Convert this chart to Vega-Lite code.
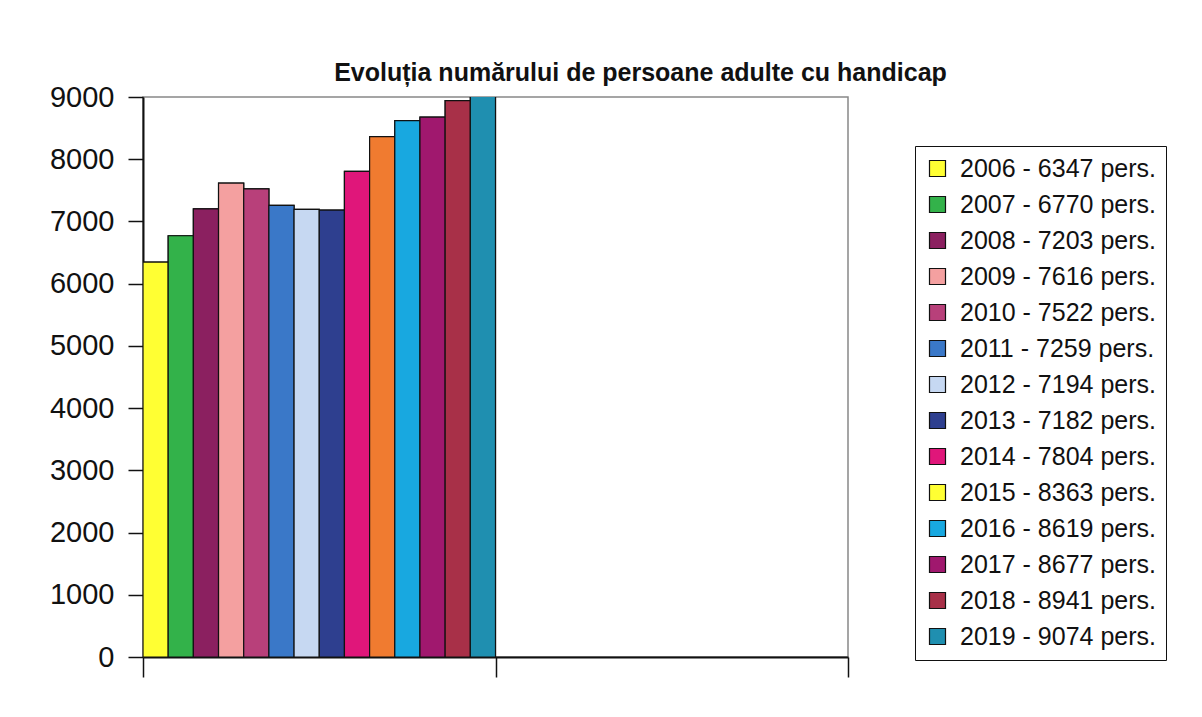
{
  "$schema": "https://vega.github.io/schema/vega-lite/v6.json",
  "autosize": {"type": "none"},
  "padding": {"left": 143, "top": 97, "right": 354, "bottom": 60},
  "width": 705,
  "height": 560,
  "background": "white",
  "title": {
    "text": "Evoluția numărului de persoane adulte cu handicap",
    "font": "Liberation Sans",
    "fontSize": 25,
    "fontWeight": "bold",
    "color": "#111",
    "anchor": "middle",
    "dx": 145,
    "dy": 12,
    "offset": 9
  },
  "data": {
    "values": [
      {"group": "A", "year": "2006", "value": 6347, "label": "2006 - 6347 pers."},
      {"group": "A", "year": "2007", "value": 6770, "label": "2007 - 6770 pers."},
      {"group": "A", "year": "2008", "value": 7203, "label": "2008 - 7203 pers."},
      {"group": "A", "year": "2009", "value": 7616, "label": "2009 - 7616 pers."},
      {"group": "A", "year": "2010", "value": 7522, "label": "2010 - 7522 pers."},
      {"group": "A", "year": "2011", "value": 7259, "label": "2011 - 7259 pers."},
      {"group": "A", "year": "2012", "value": 7194, "label": "2012 - 7194 pers."},
      {"group": "A", "year": "2013", "value": 7182, "label": "2013 - 7182 pers."},
      {"group": "A", "year": "2014", "value": 7804, "label": "2014 - 7804 pers."},
      {"group": "A", "year": "2015", "value": 8363, "label": "2015 - 8363 pers."},
      {"group": "A", "year": "2016", "value": 8619, "label": "2016 - 8619 pers."},
      {"group": "A", "year": "2017", "value": 8677, "label": "2017 - 8677 pers."},
      {"group": "A", "year": "2018", "value": 8941, "label": "2018 - 8941 pers."},
      {"group": "A", "year": "2019", "value": 9074, "label": "2019 - 9074 pers."}
    ]
  },
  "encoding": {
    "x": {
      "field": "group",
      "type": "nominal",
      "scale": {"domain": ["A", "B"], "paddingInner": 0, "paddingOuter": 0},
      "axis": {
        "title": null,
        "labels": false,
        "tickBand": "extent",
        "tickSize": 20,
        "tickColor": "#111",
        "tickWidth": 1.5,
        "domainColor": "#111",
        "domainWidth": 2,
        "grid": false
      }
    },
    "xOffset": {
      "field": "label",
      "type": "nominal",
      "sort": null,
      "scale": {"paddingInner": 0, "paddingOuter": 0}
    },
    "y": {
      "field": "value",
      "type": "quantitative",
      "scale": {"domain": [0, 9000], "nice": false},
      "axis": {
        "title": null,
        "format": "d",
        "values": [0, 1000, 2000, 3000, 4000, 5000, 6000, 7000, 8000, 9000],
        "grid": false,
        "labelFont": "Liberation Sans",
        "labelFontSize": 29,
        "labelColor": "#111",
        "labelPadding": 14,
        "tickSize": 15,
        "tickColor": "#111",
        "tickWidth": 1.5,
        "domainColor": "#111",
        "domainWidth": 2
      }
    }
  },
  "layer": [
    {
      "mark": {"type": "bar", "stroke": "#111", "strokeWidth": 1.2, "clip": true},
      "encoding": {
        "fill": {
          "field": "label",
          "type": "nominal",
          "sort": null,
          "scale": {
            "range": ["#FFFF33", "#33B24A", "#8B2060", "#F4A0A0", "#B8407A", "#3A78C8", "#C6D8F2", "#2E3F8F", "#E0167A", "#FFFF33", "#18A8E0", "#A0186E", "#A83048", "#1F8FB0"]
          },
          "legend": {
            "title": null,
            "orient": "none",
            "legendX": 772,
            "legendY": 49,
            "padding": 10,
            "strokeColor": "#111",
            "fillColor": "white",
            "symbolType": "square",
            "symbolSize": 256,
            "symbolStrokeColor": "#111",
            "symbolStrokeWidth": 1.2,
            "labelFont": "Liberation Sans",
            "labelFontSize": 25,
            "labelColor": "#111",
            "labelLimit": 400,
            "labelOffset": 10,
            "rowPadding": 10,
            "symbolOpacity": 1
          }
        }
      }
    },
    {
      "mark": {"type": "bar", "stroke": "#111", "strokeWidth": 1.2, "clip": true},
      "encoding": {
        "fill": {
          "field": "label",
          "type": "nominal",
          "sort": null,
          "scale": {
            "range": ["#FFFF33", "#33B24A", "#8B2060", "#F4A0A0", "#B8407A", "#3A78C8", "#C6D8F2", "#2E3F8F", "#E0167A", "#F07B30", "#18A8E0", "#A0186E", "#A83048", "#1F8FB0"]
          },
          "legend": null
        }
      }
    }
  ],
  "resolve": {"scale": {"fill": "independent"}, "legend": {"fill": "independent"}},
  "config": {
    "view": {"stroke": "#888", "strokeWidth": 1.5}
  }
}
